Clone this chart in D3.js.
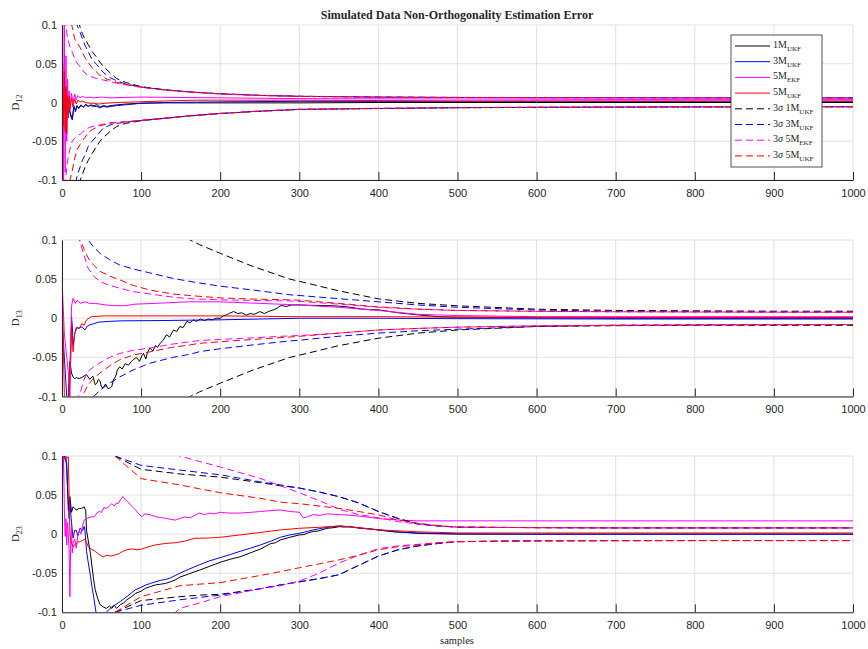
<!DOCTYPE html>
<html>
<head>
<meta charset="utf-8">
<script src="https://cdn.jsdelivr.net/npm/d3@7"></script>
<style>
  body { margin: 0; background: #fff; }
  text { fill: #262626; }
</style>
</head>
<body>
<script>
// ---------- data ----------
const xTicks = [0, 100, 200, 300, 400, 500, 600, 700, 800, 900, 1000];
const yTicks = [-0.1, -0.05, 0, 0.05, 0.1];
const legendNames = ["1M|UKF", "3M|UKF", "5M|EKF", "5M|UKF", "3σ 1M|UKF", "3σ 3M|UKF", "3σ 5M|EKF", "3σ 5M|UKF"];

// D12 : 3-sigma bounds (upper / lower) on a common sample grid
const d12_bx = [1,4,6,8,10,13,16,19,23,26,29,33,38,44,48,52,57,61,69,80,100,130,160,200,250,300,400,500,600,700,800,900,1000];
const d12_m1_up = [0.7,0.35,0.26,0.21,0.18,0.15,0.13,0.11,0.097,0.088,0.082,0.075,0.066,0.058,0.052,0.047,0.042,0.038,0.031,0.026,0.0205,0.0165,0.0138,0.0113,0.0093,0.0081,0.0071,0.0066,0.0063,0.0062,0.0061,0.006,0.006];
const d12_m3_up = [0.6,0.3,0.22,0.18,0.16,0.13,0.115,0.1,0.09,0.082,0.074,0.066,0.055,0.049,0.044,0.039,0.035,0.032,0.028,0.024,0.02,0.0163,0.0137,0.0112,0.0092,0.008,0.007,0.0065,0.0062,0.0061,0.006,0.006,0.0059];
const d12_m5e_up = [0.25,0.12,0.09,0.08,0.072,0.065,0.057,0.051,0.046,0.042,0.038,0.035,0.033,0.031,0.030,0.029,0.028,0.027,0.025,0.023,0.0195,0.016,0.0135,0.011,0.009,0.0078,0.0068,0.0063,0.0061,0.006,0.006,0.0059,0.0058];
const d12_m5u_up = [0.4,0.2,0.16,0.13,0.11,0.097,0.082,0.077,0.071,0.064,0.058,0.052,0.045,0.039,0.035,0.033,0.030,0.029,0.026,0.0235,0.0198,0.0162,0.0136,0.0111,0.0091,0.0079,0.0069,0.0064,0.0062,0.006,0.006,0.0059,0.0058];
const d12_m1_lo = [-0.7,-0.35,-0.26,-0.2,-0.17,-0.14,-0.125,-0.11,-0.1,-0.092,-0.084,-0.075,-0.066,-0.056,-0.05,-0.045,-0.041,-0.037,-0.031,-0.027,-0.0235,-0.0205,-0.0175,-0.0143,-0.0113,-0.009,-0.0078,-0.0068,-0.0063,-0.006,-0.0058,-0.0057,-0.0056];
const d12_m3_lo = [-0.6,-0.3,-0.22,-0.17,-0.15,-0.125,-0.11,-0.095,-0.083,-0.074,-0.068,-0.057,-0.05,-0.043,-0.038,-0.033,-0.031,-0.029,-0.027,-0.0255,-0.0232,-0.0203,-0.0173,-0.0142,-0.0112,-0.0089,-0.0077,-0.0067,-0.0062,-0.0059,-0.0057,-0.0056,-0.0055];
const d12_m5e_lo = [-0.25,-0.11,-0.083,-0.07,-0.06,-0.05,-0.046,-0.043,-0.041,-0.038,-0.036,-0.033,-0.031,-0.030,-0.029,-0.028,-0.027,-0.026,-0.0255,-0.025,-0.023,-0.02,-0.017,-0.014,-0.011,-0.0087,-0.0075,-0.0066,-0.0061,-0.0058,-0.0056,-0.0055,-0.0054];
const d12_m5u_lo = [-0.4,-0.2,-0.15,-0.12,-0.1,-0.088,-0.072,-0.061,-0.054,-0.049,-0.045,-0.039,-0.035,-0.032,-0.030,-0.029,-0.028,-0.027,-0.026,-0.025,-0.023,-0.0202,-0.0172,-0.0141,-0.0111,-0.0088,-0.0076,-0.0066,-0.0061,-0.0058,-0.0056,-0.0055,-0.0054];

// D12 : estimation errors
const d12_m1_x = [1,3,5,7,9,11,13,15,17,19,21,24,27,30,33,36,40,44,48,52,57,62,70,80,100,130,170,220,300,400,600,1000];
const d12_m1_y = [0.0,-0.01,0.005,-0.012,-0.008,-0.015,-0.022,-0.006,-0.01,-0.004,-0.007,-0.003,-0.006,-0.002,-0.005,-0.003,-0.004,-0.003,-0.006,-0.004,-0.005,-0.004,-0.003,-0.002,-0.001,-0.0005,-0.0005,-0.0005,-0.0005,0.0,0.0,0.0];
const d12_m3_x = [1,3,5,7,9,11,13,15,17,19,21,24,27,30,33,36,40,44,48,52,57,62,70,80,100,130,170,220,300,400,600,1000];
const d12_m3_y = [0.0,-0.012,0.004,-0.015,-0.006,-0.018,-0.022,-0.004,-0.012,-0.005,-0.008,-0.004,-0.006,-0.003,-0.005,-0.004,-0.005,-0.005,-0.007,-0.005,-0.006,-0.005,-0.004,-0.003,-0.001,0.0,0.0005,0.001,0.0015,0.0015,0.0015,0.0015];
const d12_m5e_x = [1,2,3,4,5,6,7,8,9,10,12,14,16,18,20,23,26,30,35,40,50,60,80,100,150,200,300,500,700,1000];
const d12_m5e_y = [0.1,-0.1,0.1,-0.09,0.06,-0.05,0.03,-0.02,0.015,-0.01,0.012,0.0,0.011,0.004,0.009,0.006,0.008,0.006,0.007,0.006,0.007,0.006,0.0065,0.007,0.0065,0.006,0.005,0.0045,0.004,0.004];
const d12_m5u_x = [1,2,3,4,5,6,7,8,9,10,12,14,16,18,20,23,26,30,35,40,46,55,70,85,100,130,170,220,300,400,500,700,1000];
const d12_m5u_y = [0.05,-0.03,0.04,-0.038,0.02,-0.04,0.01,-0.02,0.008,-0.008,0.006,-0.006,0.005,-0.002,0.003,0.001,0.002,0.0,-0.001,-0.001,-0.002,-0.001,0.0,0.0005,0.001,0.002,0.003,0.003,0.003,0.0025,0.002,0.002,0.002];

// D13 : 3-sigma bounds
const d13_bx = [1,4,8,12,16,23,28,33,40,48,60,73,90,111,140,162,174,200,242,288,301,350,400,450,500,600,700,800,900,1000];
const d13_m1_up = [1.5,0.8,0.6,0.5,0.45,0.38,0.34,0.3,0.26,0.23,0.2,0.17,0.15,0.13,0.112,0.1,0.094,0.083,0.066,0.050,0.047,0.035,0.0248,0.019,0.0159,0.0116,0.01,0.0095,0.009,0.009];
const d13_m3_up = [0.7,0.35,0.25,0.2,0.17,0.13,0.115,0.1,0.091,0.083,0.075,0.068,0.063,0.058,0.051,0.047,0.045,0.041,0.036,0.030,0.029,0.025,0.021,0.017,0.014,0.0105,0.009,0.0085,0.0082,0.008];
const d13_m5e_up = [0.4,0.2,0.15,0.125,0.115,0.097,0.08,0.064,0.054,0.047,0.042,0.0385,0.034,0.031,0.027,0.025,0.0245,0.0235,0.0228,0.022,0.0215,0.018,0.014,0.0115,0.0099,0.0088,0.0082,0.0079,0.0077,0.0076];
const d13_m5u_up = [0.5,0.25,0.17,0.14,0.125,0.1,0.088,0.077,0.068,0.060,0.054,0.049,0.042,0.036,0.031,0.029,0.028,0.026,0.0245,0.0235,0.023,0.019,0.0145,0.0117,0.01,0.0089,0.0083,0.008,0.0078,0.0077];
const d13_m1_lo = [-1.5,-0.8,-0.6,-0.5,-0.45,-0.38,-0.34,-0.3,-0.26,-0.23,-0.2,-0.17,-0.15,-0.13,-0.112,-0.1,-0.094,-0.083,-0.066,-0.050,-0.047,-0.035,-0.0255,-0.019,-0.015,-0.0105,-0.0095,-0.009,-0.009,-0.009];
const d13_m3_lo = [-0.7,-0.35,-0.25,-0.2,-0.17,-0.14,-0.125,-0.112,-0.1,-0.092,-0.083,-0.075,-0.066,-0.0575,-0.05,-0.046,-0.0426,-0.039,-0.034,-0.029,-0.028,-0.023,-0.019,-0.016,-0.014,-0.0105,-0.009,-0.0085,-0.0082,-0.008];
const d13_m5e_lo = [-0.4,-0.2,-0.15,-0.12,-0.11,-0.095,-0.078,-0.068,-0.062,-0.057,-0.05,-0.045,-0.041,-0.038,-0.033,-0.030,-0.0285,-0.027,-0.025,-0.0225,-0.022,-0.019,-0.015,-0.013,-0.0114,-0.0097,-0.009,-0.0085,-0.0082,-0.008];
const d13_m5u_lo = [-0.5,-0.25,-0.17,-0.14,-0.125,-0.105,-0.095,-0.085,-0.077,-0.070,-0.061,-0.053,-0.047,-0.043,-0.037,-0.034,-0.032,-0.030,-0.027,-0.024,-0.023,-0.019,-0.015,-0.013,-0.0114,-0.0097,-0.009,-0.0085,-0.0082,-0.008];

// D13 : estimation errors
const d13_m1_x = [5,8,10,12,14,16,18,22,26,31,35,39,42,44,46,48,50,52,55,58,61,63,65,68,70,73,76,80,84,88,90,94,98,101,103,106,108,111,115,118,121,124,128,132,136,141,145,149,153,158,162,166,170,175,180,185,190,195,200,204,208,212,217,222,227,233,238,243,250,256,262,267,272,277,284,290,301,320,340,351,365,377,390,400,425,450,475,500,600,700,800,1000];
const d13_m1_y = [-0.15,-0.1,-0.055,-0.07,-0.075,-0.077,-0.076,-0.077,-0.075,-0.072,-0.078,-0.074,-0.085,-0.083,-0.078,-0.08,-0.088,-0.089,-0.084,-0.09,-0.089,-0.087,-0.079,-0.074,-0.066,-0.062,-0.065,-0.058,-0.06,-0.055,-0.053,-0.05,-0.055,-0.048,-0.045,-0.052,-0.044,-0.038,-0.042,-0.035,-0.037,-0.032,-0.028,-0.021,-0.024,-0.015,-0.017,-0.0106,-0.012,-0.004,-0.006,-0.002,-0.004,-0.001,-0.003,-0.001,-0.002,0.0,0.0,0.003,0.0043,0.0065,0.0086,0.006,0.007,0.004,0.006,0.005,0.0085,0.006,0.009,0.0106,0.013,0.0163,0.015,0.017,0.017,0.0163,0.016,0.0154,0.014,0.012,0.011,0.0108,0.007,0.0043,0.002,0.0014,0.0005,0.0,0.0,0.0];
const d13_m3_x = [0,3,6,9,11,12,13,14,16,18,21,25,29,32,35,40,46,60,76,120,160,200,300,400,500,700,1000];
const d13_m3_y = [0.0,-0.05,-0.1,-0.11,-0.05,0.002,-0.01,-0.034,-0.02,-0.012,-0.0127,-0.011,-0.015,-0.01,-0.0085,-0.007,-0.005,-0.004,-0.0033,-0.003,-0.0025,-0.002,0.0,0.0,-0.0005,-0.001,-0.001];
const d13_m5e_x = [0,3,6,9,10,11,12,14,17,19,23,29,35,42,55,67,80,92,118,160,200,250,300,350,400,450,500,600,800,1000];
const d13_m5e_y = [0.05,-0.02,-0.05,-0.08,-0.1,-0.05,0.015,0.0257,0.019,0.023,0.019,0.021,0.019,0.019,0.017,0.016,0.016,0.018,0.019,0.021,0.021,0.019,0.017,0.014,0.0099,0.005,0.0035,0.002,0.002,0.002];
const d13_m5u_x = [0,3,8,10,12,14,16,19,22,25,28,31,37,54,96,160,200,300,400,500,700,1000];
const d13_m5u_y = [0.05,-0.1,-0.11,-0.06,-0.01,-0.043,-0.02,-0.012,-0.013,-0.007,-0.009,-0.002,0.002,0.003,0.003,0.003,0.003,0.002,0.002,0.0014,0.001,0.001];

// D23 : 3-sigma bounds
const d23_bx = [1,30,67,100,149,174,200,250,276,300,325,350,375,400,425,450,475,500,600,700,800,900,1000];
const d23_m1_up = [0.5,0.2,0.1,0.083,0.077,0.075,0.073,0.066,0.062,0.059,0.054,0.048,0.04,0.029,0.02,0.013,0.0105,0.009,0.0083,0.008,0.008,0.008,0.008];
const d23_m3_up = [0.5,0.2,0.1,0.088,0.082,0.079,0.076,0.067,0.063,0.059,0.054,0.048,0.04,0.029,0.02,0.013,0.0105,0.009,0.0083,0.008,0.008,0.008,0.008];
const d23_m5e_up = [1,0.4,0.2,0.14,0.1,0.093,0.086,0.0715,0.062,0.053,0.043,0.032,0.025,0.021,0.016,0.013,0.0105,0.009,0.0083,0.008,0.008,0.008,0.008];
const d23_m5u_up = [0.5,0.2,0.1,0.071,0.063,0.058,0.053,0.046,0.041,0.039,0.036,0.033,0.029,0.0246,0.018,0.014,0.011,0.009,0.0083,0.008,0.008,0.008,0.008];
const d23_m1_lo = [-0.5,-0.2,-0.1,-0.085,-0.080,-0.078,-0.077,-0.07,-0.065,-0.061,-0.057,-0.052,-0.04,-0.028,-0.02,-0.015,-0.012,-0.0096,-0.0085,-0.0083,-0.0082,-0.0082,-0.0082];
const d23_m3_lo = [-0.5,-0.2,-0.1,-0.091,-0.084,-0.081,-0.078,-0.07,-0.065,-0.061,-0.057,-0.052,-0.04,-0.028,-0.02,-0.015,-0.012,-0.0096,-0.0085,-0.0083,-0.0082,-0.0082,-0.0082];
const d23_m5e_lo = [-1,-0.4,-0.2,-0.14,-0.095,-0.088,-0.08,-0.07,-0.066,-0.06,-0.05,-0.037,-0.027,-0.0185,-0.015,-0.013,-0.011,-0.0096,-0.0085,-0.0083,-0.0082,-0.0082,-0.0082];
const d23_m5u_lo = [-0.5,-0.2,-0.1,-0.08,-0.066,-0.064,-0.062,-0.053,-0.048,-0.043,-0.038,-0.033,-0.027,-0.02,-0.016,-0.0138,-0.011,-0.0096,-0.0085,-0.0083,-0.0082,-0.0082,-0.0082];

// D23 : estimation errors
const d23_m1_x = [0,3,6,8,10,12,14,18,22,25,28,30,31,33,36,38,40,42,45,48,52,56,60,63,66,69,74,78,82,88,93,100,106,112,118,125,131,137,143,149,160,168,174,187,200,213,225,238,251,264,270,276,288,300,306,312,318,324,335,341,351,357,363,377,390,402,420,450,500,600,1000];
const d23_m1_y = [0.1,0.1,0.09,0.031,0.048,0.028,0.035,0.031,0.033,0.033,0.035,0.03,0.005,-0.007,-0.025,-0.042,-0.058,-0.071,-0.082,-0.09,-0.093,-0.095,-0.092,-0.095,-0.091,-0.095,-0.09,-0.088,-0.084,-0.08,-0.0757,-0.073,-0.069,-0.067,-0.065,-0.064,-0.063,-0.061,-0.0586,-0.055,-0.051,-0.048,-0.046,-0.041,-0.036,-0.032,-0.029,-0.024,-0.019,-0.012,-0.011,-0.0074,-0.004,-0.001,-0.0005,0.002,0.0035,0.004,0.0075,0.008,0.0096,0.009,0.0095,0.0075,0.0065,0.005,0.003,0.001,0.0,0.0,0.0];
const d23_m3_x = [0,2,5,7,9,10,12,14,16,18,20,23,26,28,29,31,33,36,38,40,43,48,52,56,60,63,68,74,78,82,88,93,100,106,112,118,125,131,137,143,149,160,174,187,200,213,225,238,251,264,276,288,300,312,318,335,351,363,377,390,402,420,450,500,600,1000];
const d23_m3_y = [0.05,0.1,0.1,0.06,0.02,0.04,0.015,-0.005,0.005,0.005,-0.002,0.008,0.004,0.01,0.005,-0.022,-0.035,-0.054,-0.068,-0.08,-0.1,-0.102,-0.103,-0.1,-0.096,-0.093,-0.09,-0.086,-0.083,-0.08,-0.075,-0.071,-0.068,-0.065,-0.063,-0.061,-0.059,-0.058,-0.056,-0.053,-0.05,-0.045,-0.039,-0.034,-0.03,-0.026,-0.022,-0.018,-0.0138,-0.009,-0.004,-0.001,0.001,0.004,0.0055,0.0088,0.0105,0.0095,0.008,0.0065,0.0054,0.003,0.0015,0.0005,0.0,0.0];
const d23_m5e_x = [0,1,2,3,4,5,6,7,9,10,11,12,13,14,16,18,20,22,24,26,28,32,36,41,44,47,50,53,56,59,63,66,69,71,74,77,80,83,86,90,93,97,101,105,110,114,120,126,131,137,143,149,155,162,168,174,180,187,193,200,210,225,240,251,262,276,288,300,305,310,318,326,335,351,368,385,400,426,450,500,1000];
const d23_m5e_y = [0.05,0.1,0.1,0.031,-0.003,0.02,-0.014,0.015,-0.02,-0.08,-0.01,0.01,-0.024,-0.012,-0.006,-0.018,-0.002,0.005,0.0,0.01,0.018,0.02,0.022,0.0224,0.027,0.029,0.028,0.034,0.033,0.035,0.039,0.036,0.04,0.039,0.044,0.048,0.044,0.0416,0.038,0.034,0.031,0.026,0.0224,0.026,0.025,0.024,0.022,0.021,0.0203,0.019,0.018,0.02,0.022,0.021,0.024,0.027,0.025,0.027,0.026,0.028,0.027,0.027,0.028,0.029,0.03,0.031,0.029,0.028,0.021,0.022,0.025,0.024,0.026,0.025,0.024,0.022,0.02,0.018,0.017,0.017,0.017];
const d23_m5u_x = [0,2,4,6,8,9,10,12,14,17,20,23,26,29,31,33,37,42,47,52,57,62,67,72,77,82,88,95,101,110,118,130,143,155,168,185,200,225,250,276,300,326,351,377,402,450,500,1000];
const d23_m5u_y = [0.1,0.1,0.095,0.097,0.099,0.05,-0.001,-0.012,-0.016,-0.013,-0.01,-0.0096,-0.008,-0.0066,-0.01,-0.016,-0.019,-0.022,-0.026,-0.029,-0.027,-0.028,-0.0266,-0.025,-0.022,-0.02,-0.019,-0.02,-0.019,-0.016,-0.0138,-0.012,-0.011,-0.009,-0.0053,-0.005,-0.004,-0.001,0.002,0.0054,0.0075,0.0088,0.0105,0.008,0.0054,0.003,0.0015,0.0015];

// ---------- layout ----------
const width = 868, height = 649;
const colors = { m1: "#000000", m3: "#0000ff", m5e: "#ff00ff", m5u: "#ff0000" };
const axisColor = "#262626", gridColor = "#e1e1e1";

const panels = [
  { top: 25, bottom: 180, sub: "12",
    solids: [[d12_m1_x, d12_m1_y, "m1"], [d12_m3_x, d12_m3_y, "m3"], [d12_m5e_x, d12_m5e_y, "m5e"], [d12_m5u_x, d12_m5u_y, "m5u"]],
    bx: d12_bx,
    bounds: [[d12_m1_up, d12_m1_lo, "m1"], [d12_m3_up, d12_m3_lo, "m3"], [d12_m5e_up, d12_m5e_lo, "m5e"], [d12_m5u_up, d12_m5u_lo, "m5u"]] },
  { top: 240, bottom: 396.5, sub: "13",
    solids: [[d13_m1_x, d13_m1_y, "m1"], [d13_m3_x, d13_m3_y, "m3"], [d13_m5e_x, d13_m5e_y, "m5e"], [d13_m5u_x, d13_m5u_y, "m5u"]],
    bx: d13_bx,
    bounds: [[d13_m1_up, d13_m1_lo, "m1"], [d13_m3_up, d13_m3_lo, "m3"], [d13_m5e_up, d13_m5e_lo, "m5e"], [d13_m5u_up, d13_m5u_lo, "m5u"]] },
  { top: 456, bottom: 612.3, sub: "23",
    solids: [[d23_m1_x, d23_m1_y, "m1"], [d23_m3_x, d23_m3_y, "m3"], [d23_m5e_x, d23_m5e_y, "m5e"], [d23_m5u_x, d23_m5u_y, "m5u"]],
    bx: d23_bx,
    bounds: [[d23_m1_up, d23_m1_lo, "m1"], [d23_m3_up, d23_m3_lo, "m3"], [d23_m5e_up, d23_m5e_lo, "m5e"], [d23_m5u_up, d23_m5u_lo, "m5u"]] }
];

const svg = d3.select("body").append("svg")
  .attr("width", width).attr("height", height)
  .attr("viewBox", [0, 0, width, height]);

const x = d3.scaleLinear().domain([0, 1000]).range([62, 853]);

panels.forEach((p, k) => {
  const y = d3.scaleLinear().domain([-0.1, 0.1]).range([p.bottom, p.top]);
  const g = svg.append("g");

  // grid
  g.selectAll(".vg").data(xTicks).enter().append("line")
    .attr("x1", d => x(d)).attr("x2", d => x(d))
    .attr("y1", p.top).attr("y2", p.bottom)
    .attr("stroke", gridColor).attr("stroke-width", 1);
  g.selectAll(".hg").data(yTicks).enter().append("line")
    .attr("x1", x(0)).attr("x2", x(1000))
    .attr("y1", d => y(d)).attr("y2", d => y(d))
    .attr("stroke", gridColor).attr("stroke-width", 1);

  // clip
  const clipId = "clip" + k;
  svg.append("clipPath").attr("id", clipId).append("rect")
    .attr("x", x(0)).attr("y", p.top)
    .attr("width", x(1000) - x(0)).attr("height", p.bottom - p.top);
  const plot = g.append("g").attr("clip-path", `url(#${clipId})`);

  // estimation errors
  p.solids.forEach(([X, Y, key]) => {
    const l = d3.line().x(i => x(X[i])).y(i => y(Y[i]));
    plot.append("path")
      .attr("d", l(d3.range(X.length)))
      .attr("fill", "none").attr("stroke", colors[key]).attr("stroke-width", 1);
  });

  // 3-sigma bounds
  p.bounds.forEach(([U, L, key]) => {
    [U, L].forEach(V => {
      const l = d3.line().x(i => x(p.bx[i])).y(i => y(V[i]));
      plot.append("path")
        .attr("d", l(d3.range(p.bx.length)))
        .attr("fill", "none").attr("stroke", colors[key])
        .attr("stroke-width", 1).attr("stroke-dasharray", "7,4");
    });
  });

  // axes
  const xAxis = d3.axisBottom(x).tickValues(xTicks).tickSize(-8).tickSizeOuter(0).tickPadding(9)
    .tickFormat(d => String(d));
  g.append("g").attr("transform", `translate(0,${p.bottom})`).call(xAxis)
    .call(a => a.select(".domain").attr("stroke", axisColor))
    .call(a => a.selectAll(".tick line").attr("stroke", axisColor))
    .call(a => a.selectAll("text").attr("fill", axisColor)
      .style("font-family", "Liberation Sans, Arial, sans-serif").style("font-size", "11px"));

  const yAxis = d3.axisLeft(y).tickValues(yTicks).tickSize(0).tickSizeOuter(0).tickPadding(5)
    .tickFormat(d => String(d));
  g.append("g").attr("transform", `translate(${x(0)},0)`).call(yAxis)
    .call(a => a.select(".domain").attr("stroke", axisColor))
    .call(a => a.selectAll("text").attr("fill", axisColor)
      .style("font-family", "Liberation Sans, Arial, sans-serif").style("font-size", "11px"));

  // y label
  const yl = g.append("text")
    .attr("transform", `translate(19,${(p.top + p.bottom) / 2}) rotate(-90)`)
    .attr("text-anchor", "middle")
    .style("font-family", "Liberation Serif, Times New Roman, serif").style("font-size", "11px");
  yl.append("tspan").text("D");
  yl.append("tspan").attr("dy", 3).style("font-size", "8px").text(p.sub);
});

// title and x label
svg.append("text").attr("x", 457).attr("y", 19).attr("text-anchor", "middle")
  .style("font-family", "Liberation Serif, Times New Roman, serif")
  .style("font-size", "12px").style("font-weight", "bold")
  .text("Simulated Data Non-Orthogonality Estimation Error");
svg.append("text").attr("x", 457).attr("y", 644).attr("text-anchor", "middle")
  .style("font-family", "Liberation Serif, Times New Roman, serif").style("font-size", "10.5px")
  .text("samples");

// legend
const legendKeys = ["m1", "m3", "m5e", "m5u", "m1", "m3", "m5e", "m5u"];
const lg = svg.append("g");
lg.append("rect").attr("x", 731).attr("y", 35).attr("width", 91).attr("height", 132)
  .attr("fill", "#fff").attr("stroke", axisColor).attr("stroke-width", 0.8);
legendNames.forEach((name, i) => {
  const ly = 46 + i * 15.7;
  lg.append("line").attr("x1", 735).attr("x2", 770).attr("y1", ly).attr("y2", ly)
    .attr("stroke", colors[legendKeys[i]]).attr("stroke-width", 1)
    .attr("stroke-dasharray", i >= 4 ? "7,4" : null);
  const [main, sub] = name.split("|");
  const t = lg.append("text").attr("x", 773).attr("y", ly + 2)
    .style("font-family", "Liberation Serif, Times New Roman, serif").style("font-size", "10px");
  if (main.startsWith("3σ")) {
    t.append("tspan").text("3");
    t.append("tspan").style("font-style", "italic").text("σ");
    t.append("tspan").text(" " + main.slice(3));
  } else {
    t.append("tspan").text(main);
  }
  t.append("tspan").attr("dy", 3).style("font-size", "7px").text(sub);
});
</script>
</body>
</html>
